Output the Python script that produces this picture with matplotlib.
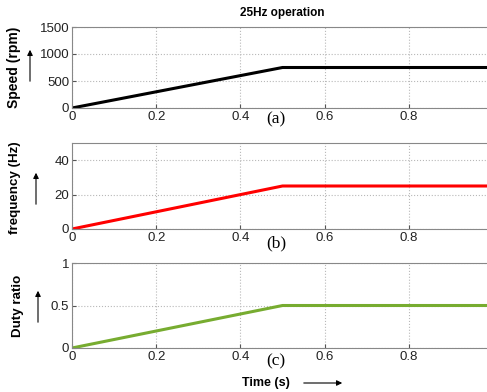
import numpy as np
import matplotlib
matplotlib.use("Agg")
import matplotlib.pyplot as plt

plt.rcParams['font.family'] = ['Liberation Sans', 'DejaVu Sans']

# data: linear ramp up to 0.5 s then constant
t = [0.0, 0.5, 1.0]
speed = [0, 750, 750]
freq = [0, 25, 25]
duty = [0, 0.5, 0.5]

xticks = [0, 0.2, 0.4, 0.6, 0.8]
xticklabels = ['0', '0.2', '0.4', '0.6', '0.8']

W, H = 487, 392
fig = plt.figure(figsize=(W / 100, H / 100), dpi=100)

def px(x, y):
    # pixel (from top-left) -> figure fraction
    return x / W, 1 - y / H

def add_panel(top, bottom):
    left = 72 / W
    width = 421 / W  # x=1 sits a bit past the right edge
    b = 1 - bottom / H
    h = (bottom - top) / H
    return fig.add_axes([left, b, width, h])

panels = [
    (27, 108, speed, 'black', [0, 500, 1000, 1500], (0, 1500)),
    (143, 229, freq, 'red', [0, 20, 40], (0, 50)),
    (263, 348, duty, '#77ac30', [0, 0.5, 1], (0, 1)),
]

axes = []
for top, bottom, y, col, yt, yl in panels:
    ax = add_panel(top, bottom)
    ax.plot(t, y, color=col, lw=2.2, solid_capstyle='butt')
    ax.set_xlim(0, 1)
    ax.set_ylim(*yl)
    ax.set_xticks(xticks)
    ax.set_xticklabels(xticklabels)
    ax.set_yticks(yt)
    ax.set_yticklabels([('%g' % v) for v in yt])
    ax.grid(True, linestyle=':', color='#b8b8b8', lw=0.8)
    ax.tick_params(direction='in', length=3, labelsize=9.5, pad=2, color='#555555',
                   labelcolor='#222222')
    for s in ax.spines.values():
        s.set_color('#888888')
        s.set_linewidth(0.8)
    axes.append(ax)

# y labels
fig.text(*px(14, 67), 'Speed (rpm)', rotation=90, ha='center', va='center',
         fontsize=10, fontweight='bold')
fig.text(*px(15, 188), 'frequency (Hz)', rotation=90, ha='center', va='center',
         fontsize=9.6, fontweight='bold')
fig.text(*px(18, 306), 'Duty ratio', rotation=90, ha='center', va='center',
         fontsize=9.6, fontweight='bold')

# upward arrows next to y labels
for x, y0, y1 in [(30, 84, 47), (36, 207, 170), (38, 325, 288)]:
    fig.add_artist(matplotlib.patches.FancyArrowPatch(
        px(x, y0), px(x, y1), transform=fig.transFigure,
        arrowstyle='-|>', mutation_scale=8, lw=0.8, color='black'))

# title
fig.text(*px(282, 13), '25Hz operation', ha='center', va='center',
         fontsize=8.5, fontweight='bold')

# panel tags
for y, tag in [(119, '(a)'), (243, '(b)'), (361, '(c)')]:
    fig.text(*px(276, y), tag, ha='center', va='center', fontsize=12.5,
             family=['Liberation Serif', 'DejaVu Serif'])

# time axis label with arrow
fig.text(*px(266, 383), 'Time (s)', ha='center', va='center',
         fontsize=9, fontweight='bold')
fig.add_artist(matplotlib.patches.FancyArrowPatch(
    px(301, 383), px(345, 383), transform=fig.transFigure,
    arrowstyle='-|>', mutation_scale=8, lw=0.8, color='black'))

fig.savefig('out.png', dpi=100)
